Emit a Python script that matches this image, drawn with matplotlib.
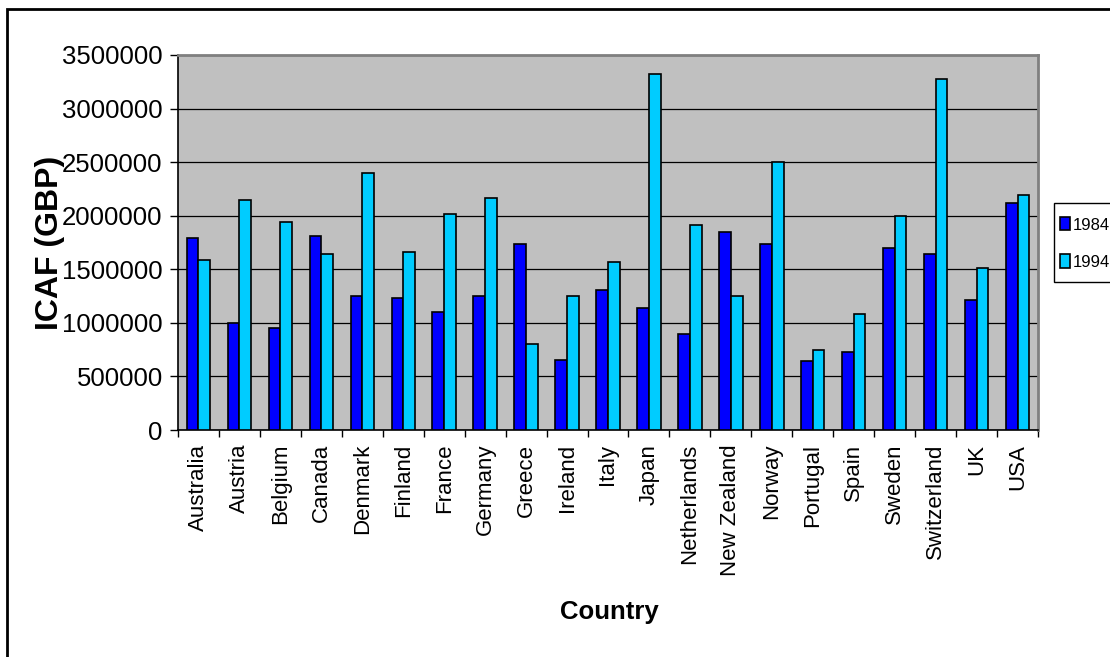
import matplotlib
matplotlib.use("Agg")
import matplotlib.pyplot as plt
from matplotlib.patches import Rectangle
import numpy as np

countries = ["Australia", "Austria", "Belgium", "Canada", "Denmark", "Finland",
             "France", "Germany", "Greece", "Ireland", "Italy", "Japan",
             "Netherlands", "New Zealand", "Norway", "Portugal", "Spain",
             "Sweden", "Switzerland", "UK", "USA"]
icaf_1984 = [1795000, 995000, 955000, 1815000, 1255000, 1235000, 1105000,
             1255000, 1740000, 655000, 1310000, 1140000, 900000, 1850000,
             1740000, 640000, 730000, 1700000, 1645000, 1215000, 2115000]
icaf_1994 = [1590000, 2150000, 1945000, 1645000, 2395000, 1665000, 2020000,
             2170000, 805000, 1255000, 1570000, 3325000, 1910000, 1255000,
             2505000, 750000, 1085000, 2000000, 3275000, 1515000, 2190000]
series_labels = ["1984", "1994"]
y_ticks = [0, 500000, 1000000, 1500000, 2000000, 2500000, 3000000, 3500000]

plt.rcParams["font.family"] = ["Liberation Sans", "DejaVu Sans"]

W, H = 1110, 657
fig = plt.figure(figsize=(W / 100, H / 100), dpi=100)
fig.patch.set_facecolor("white")

# outer chart frame (open at right and bottom)
fig.patches.append(Rectangle((7 / W, -0.2), 1.5, (1 - 9 / H) + 0.2,
                             transform=fig.transFigure, fill=False,
                             edgecolor="black", linewidth=2, zorder=-2))

# legend box (open at the right edge of the chart area)
fig.patches.append(Rectangle((1054 / W, 1 - 282 / H), 0.2, 79 / H,
                             transform=fig.transFigure, facecolor="white",
                             edgecolor="black", linewidth=1, zorder=-1))

ax = fig.add_axes([178 / W, 1 - 430 / H, 860 / W, 375 / H])
ax.set_facecolor("#C0C0C0")

x = np.arange(len(countries))
bw = 0.286
ax.bar(x - bw / 2, icaf_1984, width=bw, color="#0000FF", edgecolor="black",
       linewidth=1.2, label=series_labels[0], zorder=3)
ax.bar(x + bw / 2, icaf_1994, width=bw, color="#00CCFF", edgecolor="black",
       linewidth=1.2, label=series_labels[1], zorder=3)

ax.set_xlim(-0.5, len(countries) - 0.5)
ax.set_ylim(0, 3500000)

ax.set_yticks(y_ticks)
ax.set_yticklabels([str(v) for v in y_ticks], fontsize=18.5)
ax.tick_params(axis="y", direction="out", length=6, width=1, pad=5)
ax.yaxis.grid(True, color="black", linewidth=0.9, zorder=1)
ax.set_axisbelow(True)

# category labels at centres, tick marks at category boundaries
ax.set_xticks(x)
ax.set_xticklabels(countries, rotation=90, fontsize=16, va="top", ha="center")
ax.tick_params(axis="x", which="major", length=0, pad=10)
ax.set_xticks(np.arange(-0.5, len(countries)), minor=True)
ax.tick_params(axis="x", which="minor", direction="out", length=5, width=1)

for side in ("top", "right"):
    ax.spines[side].set_color("#808080")
    ax.spines[side].set_linewidth(2)
for side in ("left", "bottom"):
    ax.spines[side].set_color("black")
    ax.spines[side].set_linewidth(1.2)

fig.text(50 / W, 1 - 242.5 / H, "ICAF (GBP)", rotation=90, ha="center",
         va="center", fontsize=23, fontweight="bold")
fig.text(609 / W, 1 - 619 / H, "Country", ha="center", va="baseline",
         fontsize=18.5, fontweight="bold")

leg = ax.legend(loc="center left", bbox_to_anchor=(1060 / W, 1 - 243.5 / H),
                bbox_transform=fig.transFigure, fontsize=12, frameon=False,
                borderaxespad=0, borderpad=0, handlelength=0.6,
                handleheight=0.84, handletextpad=0.15, labelspacing=1.3)

fig.savefig("out.png", dpi=100)
